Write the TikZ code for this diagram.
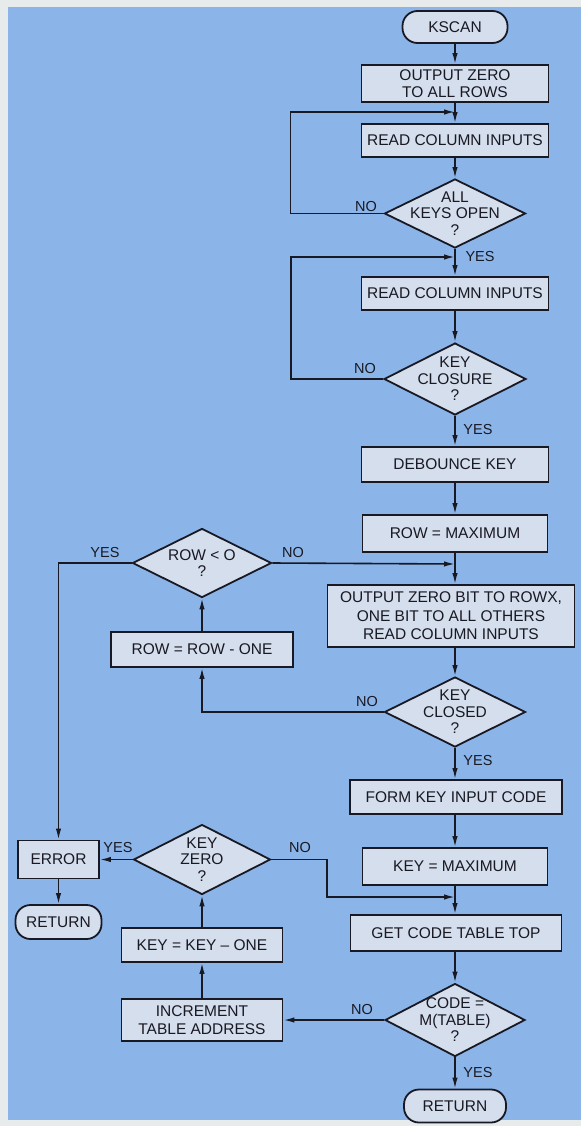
\documentclass[tikz,border=0pt]{standalone}
\usepackage{fontspec}
\setmainfont{Liberation Sans}
\usetikzlibrary{shapes.geometric,arrows.meta}
\definecolor{bgblue}{RGB}{139,181,233}
\definecolor{boxfill}{RGB}{212,222,236}
\definecolor{paper}{RGB}{232,235,236}
\definecolor{ink}{RGB}{25,25,35}
\begin{document}
\begin{tikzpicture}[x=1pt,y=-1pt,
  every node/.style={font=\fontsize{15.5}{17}\selectfont, text=ink},
  box/.style={draw=ink,line width=1.8pt,fill=boxfill,inner sep=0pt,align=center},
  term/.style={box,rounded corners=15pt},
  dia/.style={diamond,draw=ink,line width=1.8pt,fill=boxfill,inner sep=0pt},
  dtext/.style={align=center,inner sep=0pt,font=\fontsize{15.5}{16.5}\selectfont,text=ink},
  lab/.style={inner sep=0pt,font=\fontsize{14.5}{16}\selectfont},
  ln/.style={draw=ink,line width=1.6pt},
  arr/.style={ln,-{Latex[length=11pt,width=5.5pt]}}]
\useasboundingbox (0,0) rectangle (581,1126);
\fill[paper] (0,0) rectangle (581,1126);
\fill[bgblue] (8,7) rectangle (581,1120);

% main column
\node[term,minimum width=105pt,minimum height=32pt] (kscan) at (455,27) {KSCAN};
\node[box,minimum width=187pt,minimum height=37pt] (out0) at (455,83.5) {OUTPUT ZERO\\TO ALL ROWS};
\node[box,minimum width=187pt,minimum height=33pt] (rc1) at (455,140.5) {READ COLUMN INPUTS};
\node[dia,minimum width=141pt,minimum height=69pt,label={[dtext]center:{ALL\\KEYS OPEN\\?}}] (d1) at (455,213.5) {};
\node[box,minimum width=187pt,minimum height=33pt] (rc2) at (455,293.5) {READ COLUMN INPUTS};
\node[dia,minimum width=142pt,minimum height=72pt,label={[dtext]center:{KEY\\CLOSURE\\?}}] (d2) at (455,379) {};
\node[box,minimum width=187pt,minimum height=35pt] (deb) at (455,464.5) {DEBOUNCE KEY};
\node[box,minimum width=185pt,minimum height=37pt] (rmax) at (455,533.5) {ROW = MAXIMUM};
\node[box,minimum width=247pt,minimum height=62pt,font=\fontsize{15.5}{18.5}\selectfont] (obit) at (451,616) {OUTPUT ZERO BIT TO ROWX,\\ONE BIT TO ALL OTHERS\\READ COLUMN INPUTS};
\node[dia,minimum width=141pt,minimum height=70pt,label={[dtext]center:{KEY\\CLOSED\\?}}] (d3) at (455,712) {};
\node[box,minimum width=212pt,minimum height=34pt] (form) at (456,797) {FORM KEY INPUT CODE};
\node[box,minimum width=185pt,minimum height=37pt] (kmax) at (455,866.5) {KEY = MAXIMUM};
\node[box,minimum width=211pt,minimum height=36pt] (gct) at (456,933) {GET CODE TABLE TOP};
\node[dia,minimum width=140pt,minimum height=73pt,label={[dtext]center:{CODE =\\M(TABLE)\\?}}] (d4) at (455,1020) {};
\node[term,minimum width=102pt,minimum height=33pt] (ret2) at (455,1106) {RETURN};

% left columns
\node[dia,minimum width=139pt,minimum height=69pt,label={[dtext]center:{ROW < O\\?}}] (d5) at (202,563) {};
\node[box,minimum width=182pt,minimum height=35pt] (rmo) at (202,649.5) {ROW = ROW - ONE};
\node[dia,minimum width=137pt,minimum height=70pt,label={[dtext]center:{KEY\\ZERO\\?}}] (d6) at (202,859.5) {};
\node[box,minimum width=81pt,minimum height=38pt] (err) at (58.5,859.5) {ERROR};
\node[term,minimum width=86pt,minimum height=34pt] (ret1) at (58.5,922) {RETURN};
\node[box,minimum width=161pt,minimum height=34pt] (kmo) at (202,945) {KEY = KEY -- ONE};
\node[box,minimum width=161pt,minimum height=42pt,font=\fontsize{15.5}{17.5}\selectfont] (inc) at (202,1020) {INCREMENT\\TABLE ADDRESS};

% merge points
\coordinate (m1) at (455,112);
\coordinate (m2) at (455,257);
\coordinate (m3) at (455,564);
\coordinate (m4) at (455,897);

% connectors
\draw[arr] (kscan) -- (out0);
\draw[ln] (out0) -- (m1);
\draw[arr] (m1) -- (rc1);
\draw[arr] (rc1) -- (d1);
\draw[arr] (d1.west) -- ++(-93,0) |- (m1);
\draw[ln] (d1) -- (m2);
\draw[arr] (m2) -- (rc2);
\draw[arr] (rc2) -- (d2);
\draw[arr] (d2.west) -- ++(-92,0) |- (m2);
\draw[arr] (d2) -- (deb);
\draw[arr] (deb) -- (rmax);
\draw[ln] (rmax) -- (m3);
\draw[arr] (m3) -- (m3 |- obit.north);
\draw[arr] (d5.east) -- (m3);
\draw[arr] (obit.south -| d3) -- (d3);
\draw[arr] (d3.west) -| (rmo.south);
\draw[arr] (rmo) -- (d5);
\draw[arr] (d5.west) -| (err.north);
\draw[arr] (d3) -- (form.north -| d3);
\draw[arr] (form.south -| kmax) -- (kmax);
\draw[ln] (kmax) -- (m4);
\draw[arr] (m4) -- (m4 |- gct.north);
\draw[arr] (d6.east) -- ++(55.5,0) |- (m4);
\draw[arr] (gct.south -| d4) -- (d4);
\draw[arr] (d4) -- (inc);
\draw[arr] (inc) -- (kmo);
\draw[arr] (kmo) -- (d6);
\draw[arr] (d6) -- (err);
\draw[arr] (err) -- (ret1);
\draw[arr] (d4) -- (ret2);

% branch labels
\node[lab] (n1) at (366,207) {NO};
\node[lab] (y1) at (480,257) {YES};
\node[lab] (n2) at (365,369) {NO};
\node[lab] (y2) at (478,430) {YES};
\node[lab] (y5) at (105,553) {YES};
\node[lab] (n5) at (293,553) {NO};
\node[lab] (n3) at (367,702) {NO};
\node[lab] (y3) at (478,760) {YES};
\node[lab] (y6) at (118,847) {YES};
\node[lab] (n6) at (300,847) {NO};
\node[lab] (n4) at (362,1009) {NO};
\node[lab] (y4) at (478,1072) {YES};
\end{tikzpicture}
\end{document}
